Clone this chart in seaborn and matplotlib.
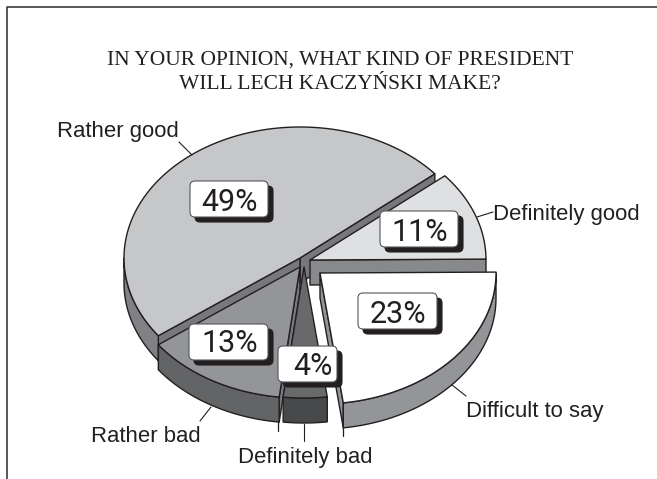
import numpy as np
import matplotlib
matplotlib.use("Agg")
import matplotlib.pyplot as plt
from matplotlib.patches import Polygon, FancyBboxPatch
import seaborn as sns

sns.set_theme(style="white")

title_lines = ["IN YOUR OPINION, WHAT KIND OF PRESIDENT", "WILL LECH KACZYŃSKI MAKE?"]
categories = ["Rather good", "Rather bad", "Definitely bad", "Difficult to say", "Definitely good"]
shares = [49, 13, 4, 23, 11]
top_colors = ["#c6c7c9", "#949598", "#68696b", "#ffffff", "#dfe0e2"]
rim_colors = ["#808184", "#636466", "#48494b", "#949598", "#88898b"]
face_colors = ["#77787b", "#77787b", "#58595b", "#949598", "#88898b"]
apexes = [(300, 258), (300, 267), (304, 267), (320, 273), (310, 260)]
paint_order = [0, 4, 1, 2, 3]
badge_boxes = [(190, 181, 78, 36), (189, 324, 79, 36), (278, 346, 59, 36), (358, 293, 79, 36), (380, 211, 78, 36)]
badge_text_x = [230, 230, 313, 398, 420]
badge_text_y = [211, 352, 375, 323, 241]
label_anchors = [(57, 137), (91, 442), (238, 463), (466, 417), (493, 220)]
leaders = [((179, 142), (192, 155)), ((211, 407), (200, 421)), ((304, 424), (304, 441)),
           ((452, 385), (466, 396)), ((477, 217), (493, 212))]

A, B, DEPTH = 176, 131, 25
START_ANGLE = 40
INK = "#231f20"

fig = plt.figure(figsize=(6.57, 4.79), dpi=100, facecolor="white")
ax = fig.add_axes([0, 0, 1, 1])
ax.set_xlim(0, 657)
ax.set_ylim(479, 0)
ax.axis("off")

# Frame open on the right and at the bottom
ax.plot([7, 7, 657], [479, 6.5, 6.5], color="#3a3a3a", lw=1.2, zorder=1)


def ellipse_arc(apex, t0, t1):
    t = np.radians(np.linspace(t0, t1, 160))
    return np.column_stack([apex[0] + A * np.cos(t), apex[1] - B * np.sin(t)])


def draw_prism(apex, t0, t1, top, rim, face, z):
    apex = np.array(apex, float)
    down = np.array([0, DEPTH])
    arc = ellipse_arc(apex, t0, t1)
    style = dict(edgecolor=INK, lw=1.0, joinstyle="round", zorder=z)
    # A cut face shows only when its outward side turns toward the viewer
    if np.cos(np.radians(t0)) > 0:
        ax.add_patch(Polygon([apex, arc[0], arc[0] + down, apex + down], facecolor=face, **style))
    if np.cos(np.radians(t1)) < 0:
        ax.add_patch(Polygon([apex, arc[-1], arc[-1] + down, apex + down], facecolor=face, **style))
    lo, hi = max(t0, 180), min(t1, 360)
    if hi > lo:
        wall = ellipse_arc(apex, lo, hi)
        ax.add_patch(Polygon(np.vstack([wall, (wall + down)[::-1]]), facecolor=rim, **style))
    ax.add_patch(Polygon(np.vstack([apex, arc]), facecolor=top, **style))


edges = START_ANGLE + np.concatenate([[0], np.cumsum(shares)]) * 3.6
for rank, i in enumerate(paint_order):
    draw_prism(apexes[i], edges[i], edges[i + 1], top_colors[i], rim_colors[i], face_colors[i], 3 + rank)

# Small tails left under the narrow cut faces
ax.plot([278, 278], [421, 431], color=INK, lw=0.9, zorder=9)
ax.plot([343, 343], [428, 436], color=INK, lw=0.9, zorder=9)

for (p, q) in leaders:
    ax.plot([p[0], q[0]], [p[1], q[1]], color=INK, lw=0.8, zorder=9)

for i, name in enumerate(categories):
    x, y = label_anchors[i]
    bx, by, bw, bh = badge_boxes[i]
    ax.text(x, y, name, family="Liberation Sans", fontsize=15.9, color=INK, ha="left", va="baseline", zorder=10)
    pad = 5
    ax.add_patch(FancyBboxPatch((bx + pad + 5, by + pad + 5), bw - 2 * pad, bh - 2 * pad,
                                boxstyle=f"round,pad={pad}", facecolor=INK, edgecolor=INK, lw=0.8, zorder=20))
    ax.add_patch(FancyBboxPatch((bx + pad, by + pad), bw - 2 * pad, bh - 2 * pad,
                                boxstyle=f"round,pad={pad}", facecolor="white", edgecolor="#55565a", lw=0.8, zorder=21))
    # Roboto's figure one has no foot, so the double digit reads cleanly
    ax.text(badge_text_x[i], badge_text_y[i], f"{shares[i]}%", family="Roboto", fontsize=22,
            color=INK, ha="center", va="baseline", zorder=22)

for line, y in zip(title_lines, (60, 84)):
    ax.text(340, y, line, family="Liberation Serif", fontsize=15.5, color=INK, ha="center", va="center", zorder=10)

fig.savefig("out.png", dpi=100, facecolor="white")
